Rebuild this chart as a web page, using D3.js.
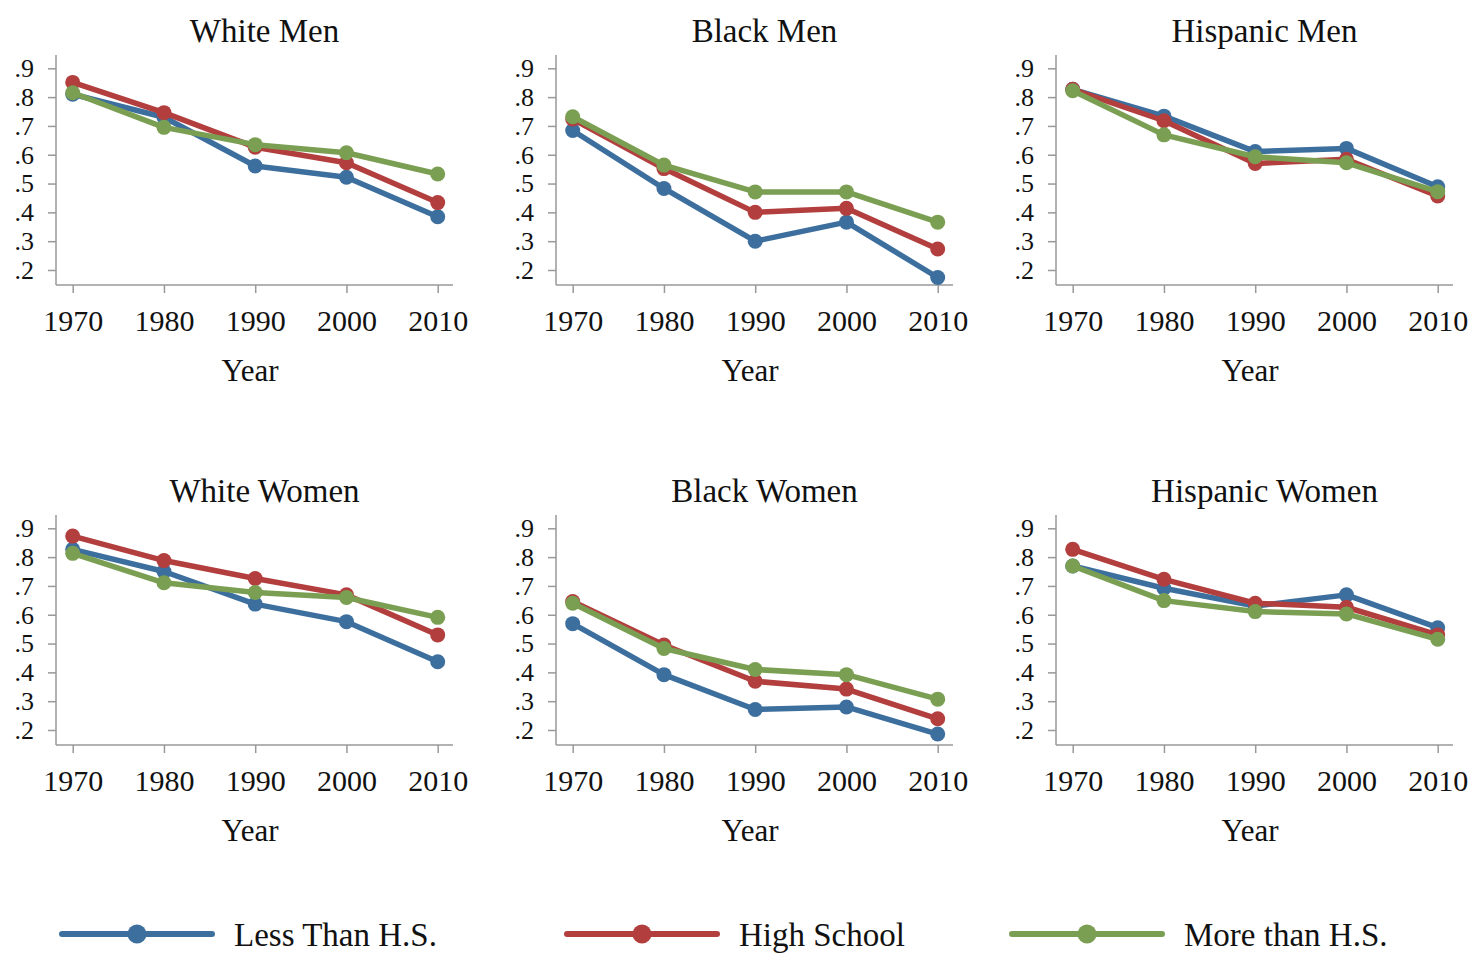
<!DOCTYPE html>
<html>
<head>
<meta charset="utf-8">
<script src="https://cdn.jsdelivr.net/npm/d3@7"></script>
<style>
  body { margin: 0; background: #fff; }
  svg text { font-family: "Liberation Serif", "DejaVu Serif", serif; fill: #111; }
</style>
</head>
<body>
<svg id="chart" width="1480" height="964"></svg>
<script>
// data
const years = [1970, 1980, 1990, 2000, 2010];
const yTicks = [0.2, 0.3, 0.4, 0.5, 0.6, 0.7, 0.8, 0.9];
const panels = ["White Men", "Black Men", "Hispanic Men", "White Women", "Black Women", "Hispanic Women"];
const seriesNames = ["Less Than H.S.", "High School", "More than H.S."];
const colors = ["#3d6f9e", "#b23f3e", "#7b9f52"];

// one row per panel, in the panels order
const lessHS = [
  [0.81, 0.73, 0.561, 0.522, 0.385],
  [0.684, 0.483, 0.30, 0.366, 0.174],
  [0.827, 0.734, 0.611, 0.622, 0.489],
  [0.827, 0.75, 0.637, 0.576, 0.437],
  [0.569, 0.392, 0.271, 0.280, 0.186],
  [0.769, 0.692, 0.630, 0.669, 0.555]
];
const highSchool = [
  [0.851, 0.746, 0.626, 0.572, 0.434],
  [0.724, 0.552, 0.40, 0.414, 0.273],
  [0.827, 0.718, 0.570, 0.584, 0.457],
  [0.873, 0.788, 0.726, 0.669, 0.530],
  [0.646, 0.495, 0.369, 0.342, 0.239],
  [0.827, 0.723, 0.640, 0.626, 0.530]
];
const moreHS = [
  [0.815, 0.695, 0.635, 0.607, 0.533],
  [0.732, 0.564, 0.471, 0.471, 0.366],
  [0.822, 0.669, 0.593, 0.572, 0.472],
  [0.813, 0.711, 0.677, 0.660, 0.591],
  [0.640, 0.483, 0.410, 0.392, 0.307],
  [0.769, 0.649, 0.611, 0.603, 0.515]
];
const allSeries = [lessHS, highSchool, moreHS];

const svg = d3.select("#chart");

const colStep = 500, rowStep = 460;
const axisLeft = 56, axisRight = 453, axisTop = 55, axisBottom = 285;

const xScale = d3.scaleLinear().domain([1970, 2010]).range([72.7, 437.7]);
const yScale = d3.scaleLinear().domain([0.2, 0.9]).range([270, 68.3]);

const line = d3.line()
  .x((d, i) => xScale(years[i]))
  .y(d => yScale(d));

panels.forEach((name, p) => {
  const col = p % 3, row = Math.floor(p / 3);
  const g = svg.append("g")
    .attr("transform", `translate(${col * colStep}, ${row * rowStep})`);

  // title
  g.append("text")
    .attr("x", (axisLeft + axisRight) / 2 + 10)
    .attr("y", 42)
    .attr("text-anchor", "middle")
    .style("font-size", "33px")
    .text(name);

  // y axis
  const yAxisG = g.append("g")
    .attr("transform", `translate(${axisLeft},0)`)
    .call(d3.axisLeft(yScale)
      .tickValues(yTicks)
      .tickSize(8)
      .tickPadding(4)
      .tickFormat(d => d3.format(".1f")(d).replace(/^0/, "")));
  yAxisG.select(".domain").remove();
  yAxisG.selectAll(".tick line").attr("stroke", "#999").attr("stroke-width", 1.5);
  yAxisG.selectAll(".tick text")
    .attr("x", -22)
    .style("font-size", "26px")
    .style("font-family", "Liberation Serif, serif")
    .attr("fill", "#111");

  // x axis
  const xAxisG = g.append("g")
    .attr("transform", `translate(0,${axisBottom})`)
    .call(d3.axisBottom(xScale)
      .tickValues(years)
      .tickSize(8)
      .tickPadding(17)
      .tickFormat(d3.format("d")));
  xAxisG.select(".domain").remove();
  xAxisG.selectAll(".tick line").attr("stroke", "#999").attr("stroke-width", 1.5);
  xAxisG.selectAll(".tick text")
    .style("font-size", "30px")
    .style("font-family", "Liberation Serif, serif")
    .attr("fill", "#111");

  // axis lines
  g.append("line")
    .attr("x1", axisLeft).attr("x2", axisLeft)
    .attr("y1", axisTop).attr("y2", axisBottom)
    .attr("stroke", "#999").attr("stroke-width", 1.5);
  g.append("line")
    .attr("x1", axisLeft).attr("x2", axisRight)
    .attr("y1", axisBottom).attr("y2", axisBottom)
    .attr("stroke", "#999").attr("stroke-width", 1.5);

  // x title
  g.append("text")
    .attr("x", 250)
    .attr("y", 381)
    .attr("text-anchor", "middle")
    .style("font-size", "31px")
    .text("Year");

  // series
  allSeries.forEach((s, k) => {
    const vals = s[p];
    g.append("path")
      .datum(vals)
      .attr("fill", "none")
      .attr("stroke", colors[k])
      .attr("stroke-width", 5.5)
      .attr("stroke-linejoin", "round")
      .attr("d", line);
    g.selectAll(null)
      .data(vals)
      .enter()
      .append("circle")
        .attr("cx", (d, i) => xScale(years[i]))
        .attr("cy", d => yScale(d))
        .attr("r", 7.5)
        .attr("fill", colors[k]);
  });
});

// legend
const legendX = [62, 567, 1012];
const legendY = 934;
seriesNames.forEach((name, k) => {
  const lg = svg.append("g").attr("transform", `translate(${legendX[k]},${legendY})`);
  lg.append("line")
    .attr("x1", 0).attr("x2", 150)
    .attr("stroke", colors[k])
    .attr("stroke-width", 6)
    .attr("stroke-linecap", "round");
  lg.append("circle")
    .attr("cx", 75).attr("r", 9.5)
    .attr("fill", colors[k]);
  lg.append("text")
    .attr("x", 172)
    .attr("y", 12)
    .style("font-size", "33px")
    .text(name);
});
</script>
</body>
</html>
